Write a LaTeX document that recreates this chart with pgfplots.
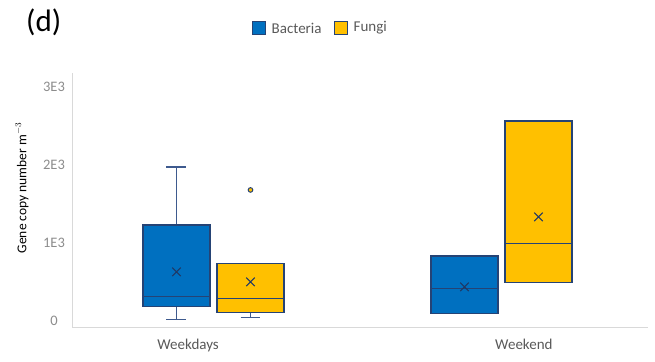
\documentclass[border=0pt]{standalone}
\usepackage{fontspec}
\setmainfont{Carlito}
\usepackage{pgfplots}
\pgfplotsset{compat=1.18}

\definecolor{bact}{HTML}{0070C0}
\definecolor{fung}{HTML}{FFC000}
\definecolor{edge}{HTML}{254375}
\definecolor{whisk}{HTML}{3E5A8E}
\definecolor{meanc}{HTML}{203864}
\definecolor{axisgray}{HTML}{D9D9D9}
\definecolor{ticktext}{HTML}{8C8C8C}
\definecolor{labtext}{HTML}{595959}

\pgfplotsset{
  boxbody/.style={draw=edge, line width=1.3bp},
  boxline/.style={draw=edge, line width=1.2bp, no marks},
  whiskline/.style={draw=whisk, line width=1.2bp, no marks},
}

\begin{document}
\begin{tikzpicture}
\useasboundingbox (0bp,0bp) rectangle (655bp,362bp);

% panel letter
\node[anchor=west,font=\fontsize{31bp}{34bp}\selectfont,inner sep=0] at (26bp,340bp) {(d)};

% legend
\draw[edge,fill=bact,line width=0.7bp] (252.5bp,327.5bp) rectangle (265.5bp,340.5bp);
\node[anchor=west,font=\fontsize{15bp}{17bp}\selectfont,text=labtext,inner sep=0] at (271.5bp,334bp) {Bacteria};
\draw[edge,fill=fung,line width=0.7bp] (334.5bp,327.5bp) rectangle (347.5bp,340.5bp);
\node[anchor=west,font=\fontsize{15bp}{17bp}\selectfont,text=labtext,inner sep=0] at (353.5bp,334bp) {Fungi};

% y-axis title
\node[rotate=90,font=\fontsize{13.5bp}{15bp}\selectfont,inner sep=0] at (22bp,174bp) {Gene copy number m$^{-3}$};

\begin{axis}[
  at={(72bp,35bp)}, anchor=south west,
  scale only axis, width=576bp, height=254bp,
  xmin=0, xmax=2, ymin=-80, ymax=3180,
  axis lines=left,
  axis line style={axisgray, line width=0.8bp, -},
  xtick={0.403,1.569}, xticklabels={Weekdays,Weekend},
  ytick={0,1000,2000,3000}, yticklabels={0,1E3,2E3,3E3},
  major tick length=0pt,
  xticklabel style={font=\fontsize{15bp}{17bp}\selectfont, text=labtext, yshift=-9bp},
  yticklabel style={font=\fontsize{14.5bp}{16bp}\selectfont, text=ticktext, anchor=center, xshift=-18bp},
  clip=false,
]
% ---- Weekdays, Bacteria: whiskers 20 / 1974, quartiles 180 / 1231, median 308
\addplot[whiskline] coordinates {(0.3628,20) (0.3628,1974)};
\addplot[whiskline] coordinates {(0.3281,20) (0.3975,20)};
\addplot[whiskline] coordinates {(0.3281,1974) (0.3975,1974)};
\addplot[boxbody, fill=bact] coordinates {(0.2465,180) (0.4791,180) (0.4791,1231) (0.2465,1231)} --cycle;
\addplot[boxline] coordinates {(0.2465,308) (0.4791,308)};

% ---- Weekdays, Fungi: whiskers 38 / 731, quartiles 103 / 731, median 282
\addplot[whiskline] coordinates {(0.6198,38) (0.6198,103)};
\addplot[whiskline] coordinates {(0.5851,38) (0.6545,38)};
\addplot[boxbody, fill=fung] coordinates {(0.5035,103) (0.7361,103) (0.7361,731) (0.5035,731)} --cycle;
\addplot[boxline] coordinates {(0.5035,282) (0.7361,282)};
% outlier
\addplot[only marks, mark=*, mark size=2.3bp, mark options={fill=fung, draw=edge, line width=1bp}]
  coordinates {(0.6198,1679)};

% ---- Weekend, Bacteria: quartiles 90 / 833, median 410
\addplot[boxbody, fill=bact] coordinates {(1.2465,90) (1.4791,90) (1.4791,833) (1.2465,833)} --cycle;
\addplot[boxline] coordinates {(1.2465,410) (1.4791,410)};

% ---- Weekend, Fungi: quartiles 487 / 2564, median 987
\addplot[boxbody, fill=fung] coordinates {(1.5035,487) (1.7361,487) (1.7361,2564) (1.5035,2564)} --cycle;
\addplot[boxline] coordinates {(1.5035,987) (1.7361,987)};

% means
\addplot[only marks, mark=x, mark size=6bp, color=meanc, line width=1.1bp]
  coordinates {(0.3628,628) (0.6198,500) (1.3628,436) (1.6198,1333)};
\end{axis}
\end{tikzpicture}
\end{document}
